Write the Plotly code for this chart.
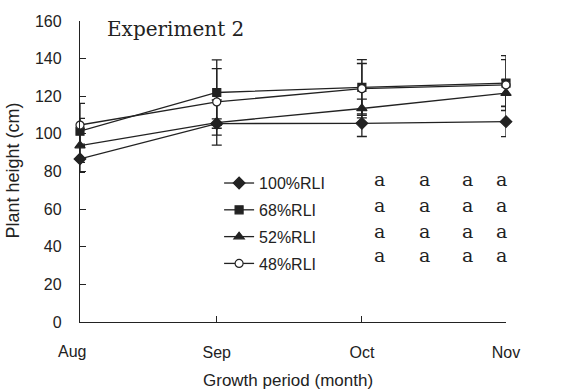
import plotly.graph_objects as go

# ---- data ----
months = ["Aug", "Sep", "Oct", "Nov"]
month_pos = [0.0, 0.963, 1.985, 3.0]

series_names = ["100%RLI", "68%RLI", "52%RLI", "48%RLI"]
rli100 = [86.7, 105.5, 105.6, 106.5]
rli100_err = [7.1, 2.5, 7.0, 8.0]
rli68 = [101.4, 122.0, 124.7, 127.0]
rli68_err = [6.8, 17.3, 14.8, 14.6]
rli52 = [93.8, 106.0, 113.5, 121.7]
rli52_err = [8.9, 12.0, 5.0, 7.0]
rli48 = [104.7, 117.0, 124.0, 126.0]
rli48_err = [11.5, 17.7, 13.4, 13.5]

sig_letters = [["a", "a", "a", "a"],
               ["a", "a", "a", "a"],
               ["a", "a", "a", "a"],
               ["a", "a", "a", "a"]]

y_ticks = [0, 20, 40, 60, 80, 100, 120, 140, 160]

# ---- styling ----
INK = "#222222"
SANS = "Liberation Sans, Arial, sans-serif"
SERIF = "DejaVu Serif, serif"

values = [rli100, rli68, rli52, rli48]
errors = [rli100_err, rli68_err, rli52_err, rli48_err]
symbols = ["diamond", "square", "triangle-up", "circle"]
fills = [INK, INK, INK, "white"]
sizes = [9, 8, 9, 8]

fig = go.Figure()
for i, name in enumerate(series_names):
    fig.add_trace(go.Scatter(
        x=month_pos, y=values[i], name=name, mode="lines+markers",
        line=dict(color=INK, width=1.3),
        marker=dict(symbol=symbols[i], size=sizes[i], color=fills[i],
                    line=dict(color=INK, width=1.2)),
        error_y=dict(type="data", array=errors[i], visible=True, color=INK,
                     thickness=1.3, width=5),
        cliponaxis=False, legendgroup=name,
    ))

W, H = 577, 391
L, R, T, B = 80, 71.3, 20.5, 68.7
pw = W - L - R
ph = H - T - B

def px(xp):
    return (xp - L) / pw

def py(yp):
    return (H - B - yp) / ph

annotations = [
    dict(text="Experiment 2", x=px(105), y=py(29), xref="paper", yref="paper",
         xanchor="left", yanchor="middle", showarrow=False,
         font=dict(family=SERIF, size=20, color=INK)),
    dict(text="Growth period (month)", x=px(288), y=py(381), xref="paper", yref="paper",
         xanchor="center", yanchor="middle", showarrow=False,
         font=dict(family=SANS, size=17, color=INK)),
    dict(text="Plant height (cm)", x=px(13), y=py(170.5), xref="paper", yref="paper",
         xanchor="center", yanchor="middle", showarrow=False, textangle=-90,
         font=dict(family=SANS, size=18, color=INK)),
    dict(text=months[0], x=px(72), y=py(352), xref="paper", yref="paper",
         xanchor="center", yanchor="middle", showarrow=False,
         font=dict(family=SANS, size=16, color=INK)),
]
col_px = [379, 424, 467, 501]
row_px = [179, 205, 231, 255]
for r, row in enumerate(sig_letters):
    for c, letter in enumerate(row):
        annotations.append(dict(text=letter, x=px(col_px[c]), y=py(row_px[r]),
                                xref="paper", yref="paper", xanchor="center",
                                yanchor="middle", showarrow=False,
                                font=dict(family=SERIF, size=19, color=INK)))

fig.update_layout(
    width=W, height=H, margin=dict(l=L, r=R, t=T, b=B, autoexpand=False),
    paper_bgcolor="white", plot_bgcolor="white",
    showlegend=True,
    legend=dict(x=px(219), y=py(166), xanchor="left", yanchor="top",
                font=dict(family=SANS, size=16, color=INK),
                bgcolor="rgba(0,0,0,0)", tracegroupgap=3, borderwidth=0),
    annotations=annotations,
)
fig.update_xaxes(range=[0, 3], tickmode="array", tickvals=month_pos[1:], ticktext=months[1:],
                 showline=True, linecolor=INK, linewidth=1.3, ticks="inside", ticklen=6,
                 tickcolor=INK, tickwidth=1.2, showgrid=False, zeroline=False,
                 tickfont=dict(family=SANS, size=16, color=INK), ticklabelstandoff=16)
fig.update_yaxes(range=[0, 160], tickmode="array", tickvals=y_ticks,
                 showline=True, linecolor=INK, linewidth=1.3, ticks="inside", ticklen=6,
                 tickcolor=INK, tickwidth=1.2, showgrid=False, zeroline=False,
                 tickfont=dict(family=SANS, size=16, color=INK), ticklabelstandoff=14)

fig.write_html("out.html", config={"displayModeBar": False},
               post_script="document.body.style.margin='0px';")
